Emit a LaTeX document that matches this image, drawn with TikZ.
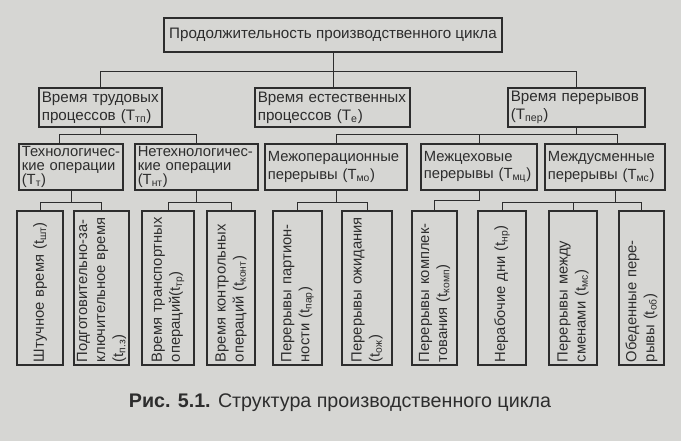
\documentclass[tikz,border=0pt]{standalone}
\usepackage{fontspec}
\setmainfont{Liberation Sans}
\definecolor{paper}{RGB}{214,214,211}
\definecolor{ink}{RGB}{45,45,45}
\newcommand{\tightfont}{\fontsize{10.5}{10}\selectfont\setlength{\lineskiplimit}{-6pt}}

\begin{document}
\begin{tikzpicture}[color=ink,
        box/.style={draw, line width=0.9pt, inner sep=2pt, align=left, font=\fontsize{10.8}{12.8}\selectfont},
        lvltwo/.style={box, minimum height=0.975cm},
        lvlthree/.style={box, minimum height=1.15cm, font=\fontsize{10.5}{12.4}\selectfont},
        tight/.style={font=\tightfont, inner ysep=0.8pt},
        vbox/.style={box, rotate=90, minimum width=3.85cm, text width=3.709cm, font=\fontsize{10.5}{12.8}\selectfont},
        link/.style={draw, line width=0.7pt}]

        \useasboundingbox (0,0) rectangle (17.025,11.025);
        \fill[paper] (0,0) rectangle (17.025,11.025);

        \node (cycle) [box, align=center, minimum width=8.45cm, minimum height=0.85cm] at (8.325,10.15) {Продолжительность производственного цикла};

        \node (labour) [lvltwo, text width=2.934cm] at (2.5125,8.3375) {Время трудовых\\процессов (T\textsubscript{тп})};
        \node (natural) [lvltwo, text width=3.734cm] at (8.3125,8.3375) {Время естественных\\процессов (T\textsubscript{е})};
        \node (breaks) [lvltwo, text width=3.284cm] at (14.4125,8.3375) {Время перерывов\\(T\textsubscript{пер})};

        \node (tech) [lvlthree, tight, text width=2.459cm] at (1.775,6.85) {Технологичес-\\кие операции\\(T\textsubscript{т})};
        \node (nontech) [lvlthree, tight, text width=2.934cm] at (4.9125,6.85) {Нетехнологичес-\\кие операции\\(T\textsubscript{нт})};
        \node (interop) [lvlthree, text width=3.409cm] at (8.4,6.85) {Межоперационные\\перерывы (T\textsubscript{мо})};
        \node (intershop) [lvlthree, text width=2.759cm] at (11.975,6.85) {Межцеховые\\перерывы~(T\textsubscript{мц})};
        \node (intershift) [lvlthree, text width=2.859cm] at (15.125,6.85) {Междусменные\\перерывы~(T\textsubscript{мс})};

        \node (piece) [vbox, minimum height=1.15cm] at (1.0,3.825) {Штучное~время~(t\textsubscript{шт})};
        \node (prep) [vbox, minimum height=1.275cm] at (2.5375,3.825) {\mbox{Подготовительно-за-}\\ключительное~время\\(t\textsubscript{п.з})};
        \node (transport) [vbox, minimum height=1.3cm] at (4.2,3.825) {Время~транспортных\\операций(t\textsubscript{тр})};
        \node (control) [vbox, minimum height=1.2cm] at (5.775,3.825) {Время~контрольных\\операций~(t\textsubscript{конт})};
        \node (batch) [vbox, minimum height=1.225cm] at (7.4375,3.825) {Перерывы~партион-\\ности~(t\textsubscript{пар})};
        \node (waiting) [vbox, minimum height=1.25cm] at (9.175,3.825) {Перерывы~ожидания\\(t\textsubscript{ож})};
        \node (assembly) [vbox, minimum height=1.125cm] at (10.8625,3.825) {Перерывы~комплек-\\тования~(t\textsubscript{комп})};
        \node (offdays) [vbox, minimum height=1.2cm] at (12.55,3.825) {Нерабочие~дни~(t\textsubscript{нр})};
        \node (shifts) [vbox, minimum height=1.2cm] at (14.325,3.825) {Перерывы~между\\сменами~(t\textsubscript{мс})};
        \node (lunch) [vbox, minimum height=1.125cm] at (16.0375,3.825) {Обеденные~пере-\\рывы~(t\textsubscript{об})};

        \node (caption) [font=\fontsize{14}{16}\selectfont] at (8.5,0.95) {\textbf{Рис. 5.1.} Структура производственного цикла};

        \draw [link] (cycle.south) -- ++(0,-0.475) -| (labour.north);
        \draw [link] (cycle.south) -- ++(0,-0.475) -| (breaks.north);
        \draw [link] (cycle.south) -- (cycle.south |- natural.north);

        \draw [link] (labour.south) -- ++(0,-0.175) -| ([xshift=-0.3cm]tech.north);
        \draw [link] (labour.south) -- ++(0,-0.175) -| (nontech.north);
        \draw [link] (breaks.south) -- ++(0,-0.175) -| (interop.north);
        \draw [link] (breaks.south) -- ++(0,-0.175) -| (intershop.north);
        \draw [link] (breaks.south) -- ++(0,-0.175) -| ([xshift=0.3cm]intershift.north);

        \draw [link] (tech.south) -- ++(0,-0.3) -| (piece.east);
        \draw [link] (tech.south) -- ++(0,-0.3) -| (prep.east);
        \draw [link] (nontech.south) -- ++(0,-0.3) -| (transport.east);
        \draw [link] (nontech.south) -- ++(0,-0.3) -| (control.east);
        \draw [link] (interop.south) -- ++(0,-0.3) -| (batch.east);
        \draw [link] (interop.south) -- ++(0,-0.3) -| (waiting.east);
        \draw [link] (intershop.south) -- ++(0,-0.25) -| (assembly.east);
        \draw [link] ([xshift=0.25cm]intershift.south) -- ++(0,-0.3) -| (offdays.east);
        \draw [link] ([xshift=0.25cm]intershift.south) -- ++(0,-0.3) -| (shifts.east);
        \draw [link] ([xshift=0.25cm]intershift.south) -- ++(0,-0.3) -| (lunch.east);
    \end{tikzpicture}
\end{document}
